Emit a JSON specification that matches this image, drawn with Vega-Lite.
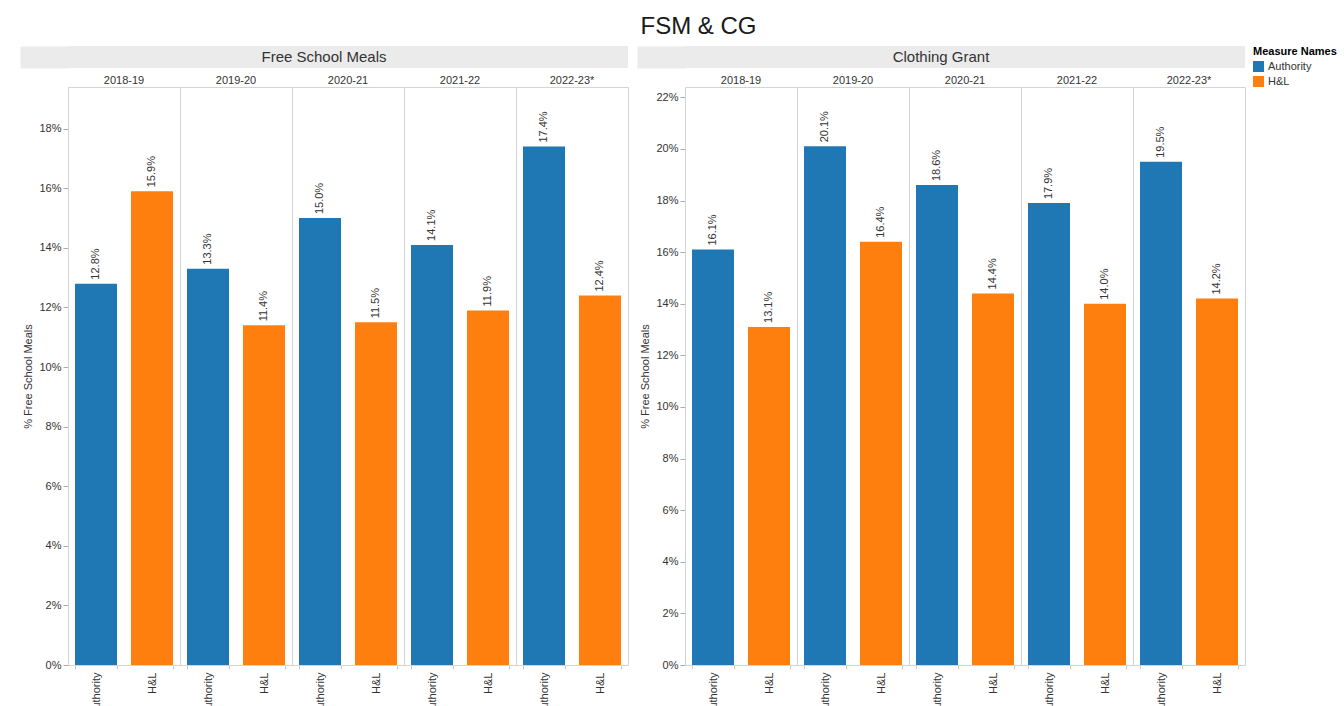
{
  "$schema": "https://vega.github.io/schema/vega-lite/v6.json",
  "padding": {"left": 22, "top": 15, "right": 0, "bottom": 0},
  "title": {"text": "FSM & CG", "fontSize": 24, "fontWeight": "normal", "color": "#1a1a1a", "anchor": "middle", "offset": 7, "dx": 19},
  "datasets": {
    "bars": [
      {"panel": "Free School Meals", "year": "2018-19", "measure": "Authority", "value": 0.128},
      {"panel": "Free School Meals", "year": "2018-19", "measure": "H&L", "value": 0.159},
      {"panel": "Free School Meals", "year": "2019-20", "measure": "Authority", "value": 0.133},
      {"panel": "Free School Meals", "year": "2019-20", "measure": "H&L", "value": 0.114},
      {"panel": "Free School Meals", "year": "2020-21", "measure": "Authority", "value": 0.150},
      {"panel": "Free School Meals", "year": "2020-21", "measure": "H&L", "value": 0.115},
      {"panel": "Free School Meals", "year": "2021-22", "measure": "Authority", "value": 0.141},
      {"panel": "Free School Meals", "year": "2021-22", "measure": "H&L", "value": 0.119},
      {"panel": "Free School Meals", "year": "2022-23*", "measure": "Authority", "value": 0.174},
      {"panel": "Free School Meals", "year": "2022-23*", "measure": "H&L", "value": 0.124},
      {"panel": "Clothing Grant", "year": "2018-19", "measure": "Authority", "value": 0.161},
      {"panel": "Clothing Grant", "year": "2018-19", "measure": "H&L", "value": 0.131},
      {"panel": "Clothing Grant", "year": "2019-20", "measure": "Authority", "value": 0.201},
      {"panel": "Clothing Grant", "year": "2019-20", "measure": "H&L", "value": 0.164},
      {"panel": "Clothing Grant", "year": "2020-21", "measure": "Authority", "value": 0.186},
      {"panel": "Clothing Grant", "year": "2020-21", "measure": "H&L", "value": 0.144},
      {"panel": "Clothing Grant", "year": "2021-22", "measure": "Authority", "value": 0.179},
      {"panel": "Clothing Grant", "year": "2021-22", "measure": "H&L", "value": 0.140},
      {"panel": "Clothing Grant", "year": "2022-23*", "measure": "Authority", "value": 0.195},
      {"panel": "Clothing Grant", "year": "2022-23*", "measure": "H&L", "value": 0.142}
    ]
  },
  "hconcat": [
    {
      "spacing": 7,
      "vconcat": [
        {
          "data": {"values": [{"panel": "Free School Meals"}]},
          "width": 560,
          "height": 22,
          "view": {"fill": "#ebebeb", "stroke": null},
          "mark": {"type": "text", "fontSize": 15, "color": "#333333", "dx": -24},
          "encoding": {
            "y": {"field": "panel", "type": "nominal", "axis": {"title": null, "labels": false, "ticks": false, "domainColor": "#ebebeb", "domainWidth": 48, "offset": 24}},
            "text": {"field": "panel", "type": "nominal"}
          }
        },
        {
          "data": {"name": "bars"},
          "transform": [{"filter": "datum.panel == 'Free School Meals'"}],
          "spacing": 0,
          "bounds": "flush",
          "facet": {
            "column": {
              "field": "year", "type": "ordinal",
              "header": {"title": null, "labelFontSize": 11, "labelColor": "#333333", "labelPadding": 1}
            }
          },
          "spec": {
            "width": 112,
            "height": 578,
            "encoding": {
              "x": {
                "field": "measure", "type": "nominal", "sort": ["Authority", "H&L"],
                "scale": {"paddingInner": 0.25},
                "axis": {"title": null, "labelAngle": 270, "labelFontSize": 11, "labelColor": "#333333", "domainColor": "#cccccc", "tickBand": "extent", "tickColor": "#cccccc", "tickSize": 4, "labelPadding": 3}
              },
              "y": {
                "field": "value", "type": "quantitative",
                "scale": {"domain": [0, 0.194], "nice": false},
                "axis": {"title": "% Free School Meals", "format": ".0%", "values": [0, 0.02, 0.04, 0.06, 0.08, 0.1, 0.12, 0.14, 0.16, 0.18], "grid": false, "domain": false, "labelFontSize": 11, "labelColor": "#333333", "titleFontSize": 11, "titleFontWeight": "normal", "titleColor": "#333333", "tickColor": "#aaaaaa", "tickSize": 5, "labelPadding": 2, "minExtent": 31, "maxExtent": 31, "titlePadding": 4}
              }
            },
            "layer": [
              {
                "mark": {"type": "bar"},
                "encoding": {
                  "color": {"field": "measure", "type": "nominal", "scale": {"domain": ["Authority", "H&L"], "range": ["#1f77b4", "#ff7f0e"]}, "legend": {"title": "Measure Names"}}
                }
              },
              {
                "mark": {"type": "text", "angle": 270, "align": "left", "baseline": "middle", "dx": 4, "fontSize": 11, "color": "#333333"},
                "encoding": {"text": {"field": "value", "type": "quantitative", "format": ".1%"}}
              }
            ]
          }
        }
      ]
    },
    {
      "spacing": 7,
      "vconcat": [
        {
          "data": {"values": [{"panel": "Clothing Grant"}]},
          "width": 560,
          "height": 22,
          "view": {"fill": "#ebebeb", "stroke": null},
          "mark": {"type": "text", "fontSize": 15, "color": "#333333", "dx": -24},
          "encoding": {
            "y": {"field": "panel", "type": "nominal", "axis": {"title": null, "labels": false, "ticks": false, "domainColor": "#ebebeb", "domainWidth": 48, "offset": 24}},
            "text": {"field": "panel", "type": "nominal"}
          }
        },
        {
          "data": {"name": "bars"},
          "transform": [{"filter": "datum.panel == 'Clothing Grant'"}],
          "spacing": 0,
          "bounds": "flush",
          "facet": {
            "column": {
              "field": "year", "type": "ordinal",
              "header": {"title": null, "labelFontSize": 11, "labelColor": "#333333", "labelPadding": 1}
            }
          },
          "spec": {
            "width": 112,
            "height": 578,
            "encoding": {
              "x": {
                "field": "measure", "type": "nominal", "sort": ["Authority", "H&L"],
                "scale": {"paddingInner": 0.25},
                "axis": {"title": null, "labelAngle": 270, "labelFontSize": 11, "labelColor": "#333333", "domainColor": "#cccccc", "tickBand": "extent", "tickColor": "#cccccc", "tickSize": 4, "labelPadding": 3}
              },
              "y": {
                "field": "value", "type": "quantitative",
                "scale": {"domain": [0, 0.224], "nice": false},
                "axis": {"title": "% Free School Meals", "format": ".0%", "values": [0, 0.02, 0.04, 0.06, 0.08, 0.1, 0.12, 0.14, 0.16, 0.18, 0.2, 0.22], "grid": false, "domain": false, "labelFontSize": 11, "labelColor": "#333333", "titleFontSize": 11, "titleFontWeight": "normal", "titleColor": "#333333", "tickColor": "#aaaaaa", "tickSize": 5, "labelPadding": 2, "minExtent": 31, "maxExtent": 31, "titlePadding": 4}
              }
            },
            "layer": [
              {
                "mark": {"type": "bar"},
                "encoding": {
                  "color": {"field": "measure", "type": "nominal", "scale": {"domain": ["Authority", "H&L"], "range": ["#1f77b4", "#ff7f0e"]}, "legend": {"title": "Measure Names"}}
                }
              },
              {
                "mark": {"type": "text", "angle": 270, "align": "left", "baseline": "middle", "dx": 4, "fontSize": 11, "color": "#333333"},
                "encoding": {"text": {"field": "value", "type": "quantitative", "format": ".1%"}}
              }
            ]
          }
        }
      ]
    }
  ],
  "spacing": 10,
  "resolve": {"scale": {"y": "independent", "color": "shared"}},
  "config": {
    "font": "Liberation Sans",
    "view": {"stroke": "#d4d4d4"},
    "legend": {"orient": "right", "offset": 7, "titleFontSize": 11, "titleFontWeight": "bold", "titleColor": "#000000", "labelFontSize": 11, "labelColor": "#333333", "symbolType": "square", "symbolSize": 120, "symbolStrokeWidth": 0, "rowPadding": 3, "titlePadding": 4}
  }
}
